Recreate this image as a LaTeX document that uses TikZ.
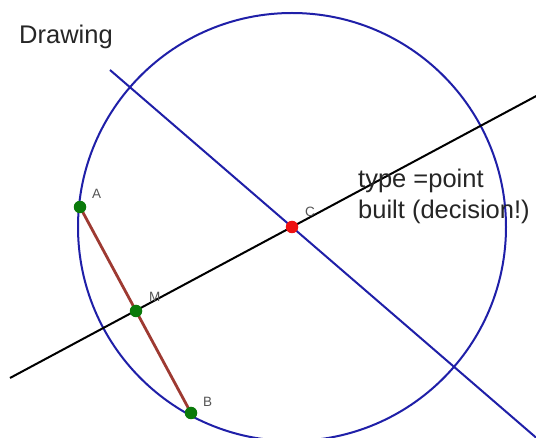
\documentclass[tikz,border=0pt]{standalone}
\usepackage{fontspec}
\setmainfont{Liberation Sans}
\usetikzlibrary{positioning,calc}
\definecolor{geoBlue}{HTML}{1F1FA8}
\definecolor{geoGreen}{HTML}{0A7A0A}
\definecolor{geoRed}{HTML}{EE1111}
\definecolor{geoBrown}{HTML}{9E3A32}
\definecolor{geoGray}{HTML}{555555}

\begin{document}
\begin{tikzpicture}[x=1pt, y=-1pt,
  pt/.style={circle, inner sep=0pt, minimum size=12.5pt, fill=geoGreen},
  lab/.style={font=\fontsize{13.5}{15}\selectfont, text=geoGray, inner sep=0pt, anchor=base west},
  big/.style={font=\fontsize{25.5}{31}\selectfont, text=black!85, inner sep=0pt, anchor=base west, align=left},
  circ/.style={draw=geoBlue, line width=2pt},
  perp/.style={draw=geoBlue, line width=2pt},
  bis/.style={draw=black, line width=2pt},
  seg/.style={draw=geoBrown, line width=2.8pt}]
\useasboundingbox (0,0) rectangle (536,438);
\clip (0,0) rectangle (536,438);
\fill[white] (0,0) rectangle (536,438);
\coordinate (A) at (80,207);
\coordinate (B) at (191,413);
\coordinate (M) at (136,311);
\coordinate (C) at (292,227);
\coordinate (bisL) at (10,378);
\coordinate (bisR) at (540,94);
\coordinate (perpT) at (110,70);
\coordinate (perpB) at (540,441);
% circle around C and the two lines
\draw[circ] (C) circle[radius=214];
\draw[bis] (bisL) -- (bisR);
\draw[perp] (perpT) -- (perpB);
\draw[seg] (A) -- (B);
% points
\node[pt] (pA) at (A) {};
\node[pt] (pB) at (B) {};
\node[pt] (pM) at (M) {};
\node[pt, fill=geoRed] (pC) at (C) {};
\node[lab] (labA) at (92,199) {A};
\node[lab] (labB) at (203,407) {B};
\node[lab] (labM) at (149,302) {M};
\node[lab] (labC) at (305,217) {C};
\node[big] (title) at (19,44) {Drawing};
\node[big] (note) at (358,219) {type =point\\built (decision!)};
\end{tikzpicture}
\end{document}
